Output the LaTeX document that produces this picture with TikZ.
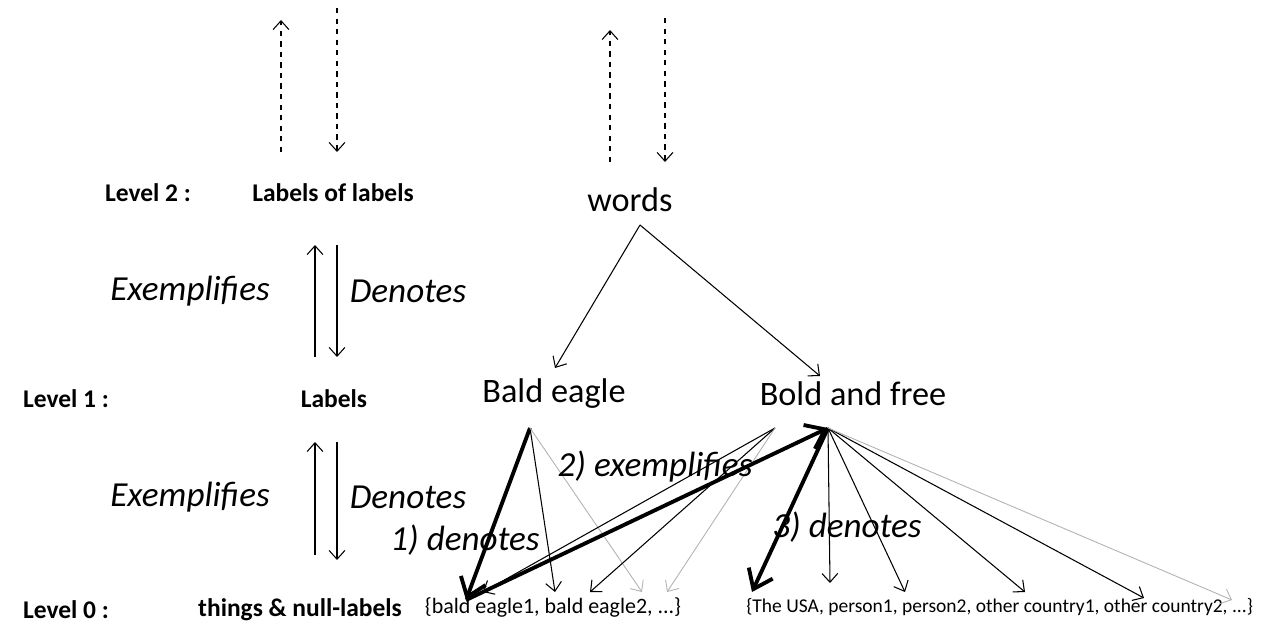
\documentclass[tikz,border=0pt]{standalone}
\usepackage{fontspec}
\setmainfont{Carlito}
\usetikzlibrary{arrows.meta}

\begin{document}
\begin{tikzpicture}[x=0.02cm, y=-0.02cm,
>={Straight Barb[length=5pt,width=9pt]},
big/.style={font=\fontsize{19.5}{22}\selectfont},
lvl/.style={font=\fontsize{14.5}{17}\selectfont\bfseries},
rel/.style={font=\fontsize{20}{23}\selectfont\itshape},
set/.style={font=\fontsize{12.5}{15}\selectfont},
link/.style={->, line width=0.6pt},
faintlink/.style={->, line width=0.5pt, gray!60},
heavylink/.style={-{Straight Barb[length=10pt,width=15pt]}, line width=2.2pt},
dashlink/.style={->, dashed, line width=0.6pt}]
\useasboundingbox (0,0) rectangle (1266,628);

% levels and labels
\node[lvl] (lev2) at (148,193) {Level 2 :};
\node[lvl] (lab2) at (333,193) {Labels of labels};
\node[lvl] (lev1) at (66,399) {Level 1 :};
\node[lvl] (lab1) at (334,399) {Labels};
\node[lvl] (lev0) at (66,610) {Level 0 :};
\node[lvl] (lab0) at (300,610) {things \& null-labels};

\node[big] (words) at (630,200) {words};
\node[big] (bald) at (554,394) {Bald eagle};
\node[big] (bold) at (853,394) {Bold and free};
\node[set] (set1) at (553,607) {\{bald eagle1, bald eagle2, ...\}};
\node[set, anchor=west, inner sep=0pt, font=\fontsize{11.1}{14}\selectfont] (set2) at (746,607) {\{The USA, person1, person2, other country1, other country2, ...\}};

\node[rel] (ex2) at (190,291) {Exemplifies};
\node[rel] (de2) at (408,291) {Denotes};
\node[rel] (ex1) at (190,497) {Exemplifies};
\node[rel] (de1) at (408,497) {Denotes};

% end points
\coordinate (up2a) at (281,152); \coordinate (up2b) at (281,20);
\coordinate (dn2a) at (337,8);   \coordinate (dn2b) at (337,152);
\coordinate (upwa) at (610,162); \coordinate (upwb) at (610,30);
\coordinate (dnwa) at (665,18);  \coordinate (dnwb) at (665,162);
\coordinate (up1a) at (315,357); \coordinate (up1b) at (315,245);
\coordinate (dn1a) at (337,245); \coordinate (dn1b) at (337,357);
\coordinate (up0a) at (315,555); \coordinate (up0b) at (315,442);
\coordinate (dn0a) at (337,442); \coordinate (dn0b) at (337,560);
\coordinate (wbot) at (640,225);
\coordinate (baldtip) at (555,368);
\coordinate (boldtip) at (820,376);
\coordinate (bA) at (530,428);
\coordinate (bL) at (775,428);
\coordinate (bR) at (828,428);
\coordinate (e1) at (466,600);
\coordinate (e1b) at (483,592);
\coordinate (e2) at (555,592);
\coordinate (e2b) at (590,592);
\coordinate (e3) at (642,592);
\coordinate (e3b) at (667,592);
\coordinate (u1) at (752,592);
\coordinate (u2) at (830,583);
\coordinate (u3) at (905,592);
\coordinate (u4) at (1025,592);
\coordinate (u5) at (1144,598);
\coordinate (u6) at (1232,600);

% vertical arrows
\draw[dashlink] (up2a) -- (up2b);
\draw[dashlink] (dn2a) -- (dn2b);
\draw[dashlink] (upwa) -- (upwb);
\draw[dashlink] (dnwa) -- (dnwb);
\draw[link] (up1a) -- (up1b);
\draw[link] (dn1a) -- (dn1b);
\draw[link] (up0a) -- (up0b);
\draw[link] (dn0a) -- (dn0b);

% words tree
\draw[link] (wbot) -- (baldtip);
\draw[link] (wbot) -- (boldtip);

% Bald eagle
\draw[heavylink] (bA) -- (e1);
\draw[link] (bA) -- (e2);
\draw[faintlink] (bA) -- (e3);

% Bold and free
\draw[link] (bL) -- (e1b);
\draw[link] (bL) -- (e2b);
\draw[faintlink] (bL) -- (e3b);
\draw[heavylink] (e1) -- (bR);
\draw[heavylink] (bR) -- (u1);
\draw[link] (bR) -- (u2);
\draw[link] (bR) -- (u3);
\draw[link] (bR) -- (u4);
\draw[link] (bR) -- (u5);
\draw[faintlink] (bR) -- (u6);

\node[rel] (den1) at (465,540) {1) denotes};
\node[rel] (exm2) at (655,466) {2) exemplifies};
\node[rel] (den3) at (847,527) {3) denotes};
\end{tikzpicture}
\end{document}
